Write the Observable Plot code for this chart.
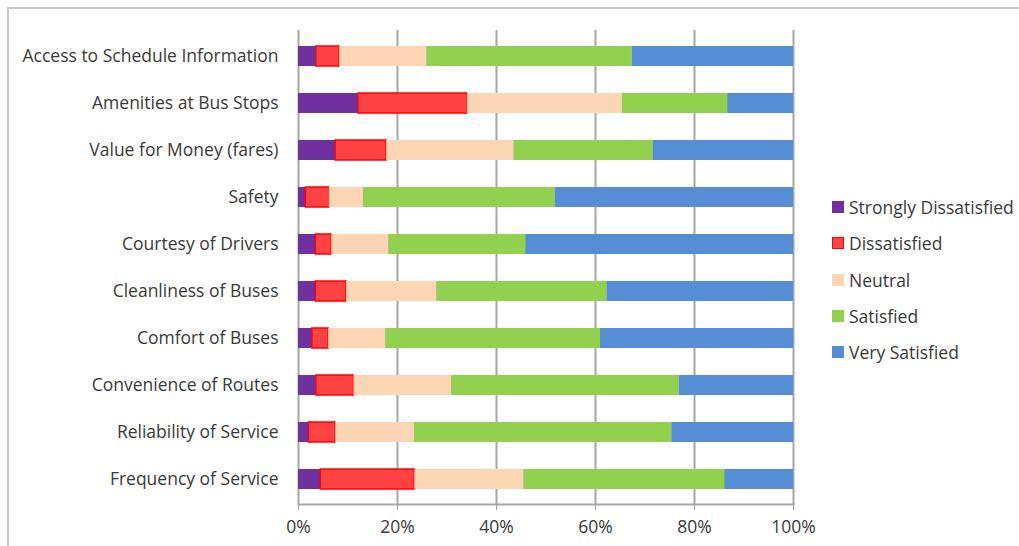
<!DOCTYPE html>
<html>
<head>
<meta charset="utf-8">
<script src="https://cdn.jsdelivr.net/npm/d3@7"></script>
<script src="https://cdn.jsdelivr.net/npm/@observablehq/plot@0.6"></script>
<style>
  body { margin: 0; background: #fff; font-family: "Open Sans", Lato, sans-serif; }
  #wrap { position: relative; width: 1019px; height: 546px; overflow: hidden; }
  #border { position: absolute; left: 7px; top: 7px; width: 2000px; height: 2000px;
            border-left: 2px solid #c9c9c9; border-top: 2px solid #c9c9c9; }
  #chart { position: absolute; left: 0; top: 0; }
  #legend { position: absolute; left: 832px; top: 189px; font-size: 17.5px; color: #3a3a3a; }
  .item { display: flex; align-items: center; height: 36.3px; }
  .sw { width: 12px; height: 12px; margin-right: 5px; box-sizing: border-box; }
</style>
</head>
<body>
<div id="wrap">
  <div id="border"></div>
  <div id="chart"></div>
  <div id="legend"></div>
</div>
<script>
const categories = [
  "Access to Schedule Information",
  "Amenities at Bus Stops",
  "Value for Money (fares)",
  "Safety",
  "Courtesy of Drivers",
  "Cleanliness of Buses",
  "Comfort of Buses",
  "Convenience of Routes",
  "Reliability of Service",
  "Frequency of Service"
];
const levels = ["Strongly Dissatisfied", "Dissatisfied", "Neutral", "Satisfied", "Very Satisfied"];
const colors = ["#7030A0", "#FF4343", "#FCD5B5", "#92D050", "#558ED5"];
const strokes = ["none", "#FF0000", "none", "none", "none"];

const stronglyDissatisfied = [3.6, 12.1, 7.5, 1.5, 3.5, 3.5, 2.8, 3.6, 2.1, 4.5];
const dissatisfied         = [4.7, 22.0, 10.3, 4.7, 3.2, 6.2, 3.3, 7.6, 5.4, 19.0];
const neutral              = [17.6, 31.3, 25.7, 6.9, 11.5, 18.2, 11.5, 19.7, 15.9, 22.0];
const satisfied            = [41.5, 21.3, 28.1, 38.7, 27.7, 34.4, 43.4, 46.0, 52.0, 40.6];
const verySatisfied        = [32.6, 13.3, 28.4, 48.2, 54.1, 37.7, 39.0, 23.1, 24.6, 13.9];
const xTicks = [0, 0.2, 0.4, 0.6, 0.8, 1];

const series = [stronglyDissatisfied, dissatisfied, neutral, satisfied, verySatisfied];
const data = [];
categories.forEach((c, i) => {
  levels.forEach((l, j) => {
    data.push({category: c, level: l, value: series[j][i], fill: colors[j], stroke: strokes[j]});
  });
});

const chart = Plot.plot({
  width: 1019,
  height: 546,
  marginLeft: 298,
  marginRight: 226,
  marginTop: 30,
  marginBottom: 42,
  style: {fontFamily: "'Open Sans', Lato, sans-serif", fontSize: "17.5px", color: "#3a3a3a", background: "transparent"},
  x: {domain: [0, 1], ticks: xTicks, tickFormat: d3.format(".0%"), label: null},
  y: {domain: categories, paddingInner: 0.58, paddingOuter: 0.29, label: null},
  color: {type: "identity"},
  marks: [
    Plot.ruleX(xTicks, {stroke: "#a6a6a6", strokeWidth: 2}),
    Plot.frame({anchor: "bottom", stroke: "#a6a6a6", strokeWidth: 2}),
    Plot.barX(data, Plot.stackX({
      y: "category", x: "value", order: levels, offset: "normalize",
      fill: "fill", stroke: "stroke", strokeWidth: 1.5, inset: 0
    })),
    Plot.axisX({ticks: xTicks, tickFormat: d3.format(".0%"), tickSize: 6, tickPadding: 10, stroke: "#a6a6a6", fontSize: 17.5, label: null}),
    Plot.axisY({tickSize: 0, tickPadding: 20, fontSize: 17.5, label: null})
  ]
});
document.getElementById("chart").appendChild(chart);

const legend = document.getElementById("legend");
levels.forEach((l, j) => {
  const item = document.createElement("div");
  item.className = "item";
  const sw = document.createElement("div");
  sw.className = "sw";
  sw.style.background = colors[j];
  if (strokes[j] !== "none") sw.style.border = "1.5px solid " + strokes[j];
  const t = document.createElement("span");
  t.textContent = l;
  item.appendChild(sw);
  item.appendChild(t);
  legend.appendChild(item);
});
</script>
</body>
</html>
